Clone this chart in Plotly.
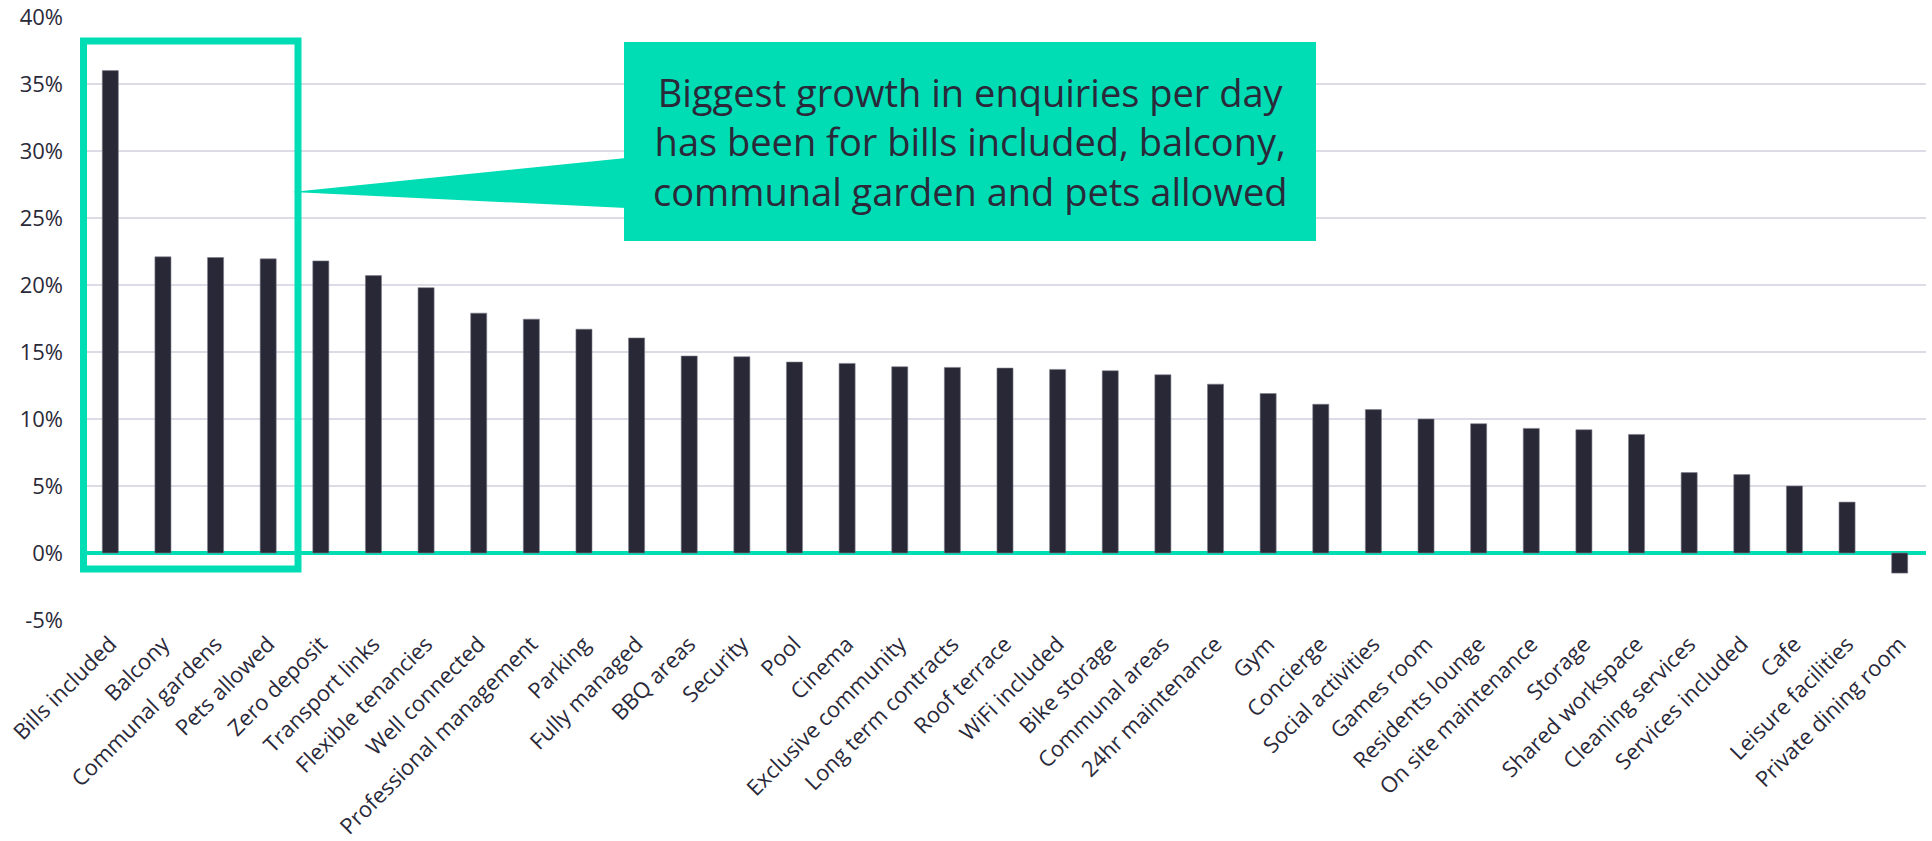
import plotly.graph_objects as go

categories = ["Bills included", "Balcony", "Communal gardens", "Pets allowed", "Zero deposit",
              "Transport links", "Flexible tenancies", "Well connected", "Professional management",
              "Parking", "Fully managed", "BBQ areas", "Security", "Pool", "Cinema",
              "Exclusive community", "Long term contracts", "Roof terrace", "WiFi included",
              "Bike storage", "Communal areas", "24hr maintenance", "Gym", "Concierge",
              "Social activities", "Games room", "Residents lounge", "On site maintenance",
              "Storage", "Shared workspace", "Cleaning services", "Services included", "Cafe",
              "Leisure facilities", "Private dining room"]
growth_pct = [36.0, 22.1, 22.05, 21.95, 21.8, 20.7, 19.8, 17.9, 17.45, 16.7, 16.05, 14.7, 14.65,
              14.25, 14.15, 13.9, 13.85, 13.8, 13.7, 13.6, 13.3, 12.6, 11.9, 11.1, 10.7, 10.0,
              9.65, 9.3, 9.2, 8.85, 6.0, 5.85, 5.0, 3.8, -1.5]
y_ticks = [-5, 0, 5, 10, 15, 20, 25, 30, 35, 40]
y_tick_labels = ["-5%", "0%", "5%", "10%", "15%", "20%", "25%", "30%", "35%", "40%"]
callout_text = "Biggest growth in enquiries per day<br>has been for bills included, balcony,<br>communal garden and pets allowed"

W, H = 1932, 841
L, R, T, B = 84, 1926, 17, 620
TEAL = "#00DDB5"
DARK = "#282837"
TEXT = "#2A2939"


def px(x):
    return (x - L) / (R - L)


def py(y):
    return (B - y) / (B - T)


fig = go.Figure(go.Bar(
    x=categories, y=growth_pct,
    marker=dict(color=DARK, line=dict(color="#7d7c8a", width=0.6)),
))

fig.update_layout(
    width=W, height=H,
    margin=dict(l=L, r=W - R, t=T, b=H - B, autoexpand=False),
    plot_bgcolor="white", paper_bgcolor="white",
    bargap=0.695,
    showlegend=False,
    font=dict(family="Open Sans", size=22, color=TEXT),
)
fig.update_yaxes(
    range=[-5, 40], tickvals=y_ticks, ticktext=y_tick_labels,
    showgrid=True, gridcolor="#DCDBE6", gridwidth=2,
    zeroline=True, zerolinecolor=TEAL, zerolinewidth=4,
    showline=False, ticks="", ticklabelstandoff=20, automargin=False,
    tickfont=dict(size=22, color=TEXT),
)
fig.update_xaxes(
    tickangle=-45, showgrid=False, showline=False, ticks="", automargin=False,
    tickfont=dict(size=22, color=TEXT), ticklabelstandoff=6,
)

# highlight rectangle around top four bars
fig.add_shape(type="rect", xref="paper", yref="paper",
              x0=px(83.5), x1=px(298), y0=py(569), y1=py(41),
              line=dict(color=TEAL, width=7), fillcolor="rgba(0,0,0,0)")
# callout pointer
fig.add_shape(type="path", xref="paper", yref="paper",
              path=f"M {px(292)},{py(192)} L {px(626)},{py(158)} L {px(626)},{py(208)} Z",
              fillcolor=TEAL, line=dict(width=0))
# callout box
fig.add_shape(type="rect", xref="paper", yref="paper",
              x0=px(624), x1=px(1316), y0=py(241), y1=py(42),
              fillcolor=TEAL, line=dict(width=0))
fig.add_annotation(xref="paper", yref="paper", x=px(970), y=py(141.5),
                   text=callout_text, showarrow=False, align="center",
                   xanchor="center", yanchor="middle",
                   font=dict(family="Open Sans", size=38, color=TEXT))

fig.write_html("out.html")
